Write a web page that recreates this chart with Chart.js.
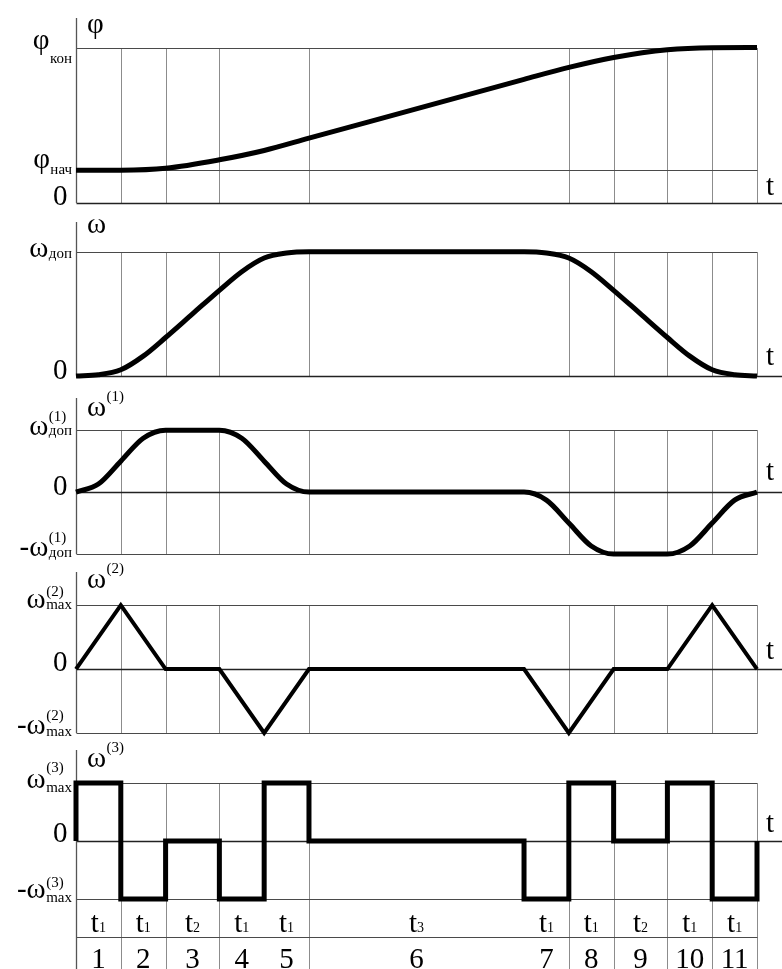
<!DOCTYPE html>
<html><head><meta charset="utf-8">
<script src="https://cdn.jsdelivr.net/npm/chart.js@4.4.0/dist/chart.umd.min.js"></script>
<style>
html,body{margin:0;padding:0;background:#fff;}
#wrap{position:relative;width:782px;height:969px;overflow:hidden;background:#fff;}
#wrap canvas{position:absolute;left:0;top:0;}
</style></head><body>
<div id="wrap">
<canvas id="c1" width="782" height="969"></canvas>
<canvas id="c2" width="782" height="969"></canvas>
<canvas id="c3" width="782" height="969"></canvas>
<canvas id="c4" width="782" height="969"></canvas>
<canvas id="c5" width="782" height="969"></canvas>
</div>
<script>
// ---- time axis: interval boundaries (t1 = 1, t2 = 1.2, t3 = 4.8) ----
const SEG_T = [0, 1, 2, 3.2, 4.2, 5.2, 10, 11, 12, 13.2, 14.2, 15.2];
const GRID_T = [1, 2, 3.2, 5.2, 11, 12, 13.2, 14.2];
const SEG_SUB = ['1', '1', '2', '1', '1', '3', '1', '1', '2', '1', '1'];
const SEG_NUMBERS = ['1', '2', '3', '4', '5', '6', '7', '8', '9', '10', '11'];

// ---- levels ----
const PHI_START = 0.21;
const PHI_END = 1.0;
const OMEGA_DOP = 1.0;
const LIM = 1.0;

// ---- φ(t) ----
const PHI_T = [0, 1, 2, 3.2, 4.2, 5.2, 10, 11, 12, 13.2, 14.2, 15.2];
const PHI   = [0.21, 0.211, 0.224, 0.278, 0.338, 0.417, 0.795, 0.872, 0.936, 0.986, 0.999, 1.0];

// ---- ω(t) ----
const OMEGA_T = [0, 0.5, 1, 1.5, 2, 2.6, 3.2, 3.7, 4.2, 4.7, 5.2, 10, 10.5, 11, 11.5, 12, 12.6, 13.2, 13.7, 14.2, 14.7, 15.2];
const OMEGA   = [0, 0.01, 0.05, 0.16, 0.31, 0.5, 0.69, 0.84, 0.95, 0.99, 1, 1, 0.99, 0.95, 0.84, 0.69, 0.5, 0.31, 0.16, 0.05, 0.01, 0];

// ---- ω(1)(t) ----
const OMEGA1_T = [0, 0.5, 1, 1.5, 2, 3.2, 3.7, 4.2, 4.7, 5.2, 10, 10.5, 11, 11.5, 12, 13.2, 13.7, 14.2, 14.7, 15.2];
const OMEGA1   = [0, 0.13, 0.5, 0.87, 1, 1, 0.87, 0.5, 0.13, 0, 0, -0.13, -0.5, -0.87, -1, -1, -0.87, -0.5, -0.13, 0];

// ---- ω(2)(t) ----
const OMEGA2_T = [0, 1, 2, 3.2, 4.2, 5.2, 10, 11, 12, 13.2, 14.2, 15.2];
const OMEGA2   = [0, 1, 0, 0, -1, 0, 0, -1, 0, 0, 1, 0];

// ---- ω(3)(t): value of the interval that ends at each time ----
const OMEGA3_T = [0, 0, 1, 2, 3.2, 4.2, 5.2, 10, 11, 12, 13.2, 14.2, 15.2, 15.2];
const OMEGA3   = [0, 1, 1, -1, 0, -1, 1, 0, -1, 1, 0, 1, -1, 0];

const FONT = '"Liberation Serif", "Times New Roman", serif';
const BIG = 29, SMALL = 15;

const PANELS = [
  { id: 'c1', top: 18, bottom: 203, yMin: 0, yMax: 1.19, t: PHI_T, y: PHI, lw: 5, mode: 'smooth',
    refs: [PHI_END, PHI_START], gridTop: PHI_END, gridBottom: 0, tDy: -8,
    title: { main: 'φ', dy: 15 },
    labels: [
      { v: PHI_END, main: 'φ', sub: 'кон', dm: 1, ds: 15, rx: 72 },
      { v: PHI_START, main: 'φ', sub: 'нач', dm: -2, ds: 4, rx: 72 },
      { v: 0, main: '0', dm: 2, rx: 68 }
    ] },
  { id: 'c2', top: 222, bottom: 376, yMin: 0, yMax: 1.24, t: OMEGA_T, y: OMEGA, lw: 5, mode: 'smooth',
    refs: [OMEGA_DOP], gridTop: OMEGA_DOP, gridBottom: 0, tDy: -11,
    title: { main: 'ω', dy: 11 },
    labels: [
      { v: OMEGA_DOP, main: 'ω', sub: 'доп', dm: 5, ds: 6, rx: 72 },
      { v: 0, main: '0', dm: 3, rx: 68 }
    ] },
  { id: 'c3', top: 398, bottom: 554, yMin: -1, yMax: 1.52, t: OMEGA1_T, y: OMEGA1, lw: 5, mode: 'smooth',
    refs: [LIM, -LIM], gridTop: LIM, gridBottom: -LIM, tDy: -12,
    title: { main: 'ω', sup: '(1)', dy: 18 },
    labels: [
      { v: LIM, main: 'ω', sub: 'доп', sup: '(1)', dm: 5, ds: 5, dp: -9, rx: 72 },
      { v: 0, main: '0', dm: 3, rx: 68 },
      { v: -LIM, main: '-ω', sub: 'доп', sup: '(1)', dm: 2, ds: 3, dp: -12, rx: 72 }
    ] },
  { id: 'c4', top: 572, bottom: 733, yMin: -1, yMax: 1.52, t: OMEGA2_T, y: OMEGA2, lw: 4, mode: 'linear',
    refs: [LIM, -LIM], gridTop: LIM, gridBottom: -LIM, tDy: -10,
    title: { main: 'ω', sup: '(2)', dy: 16 },
    labels: [
      { v: LIM, main: 'ω', sub: 'max', sup: '(2)', dm: 3, ds: 4, dp: -9, rx: 72 },
      { v: 0, main: '0', dm: 2, rx: 68 },
      { v: -LIM, main: '-ω', sub: 'max', sup: '(2)', dm: 1, ds: 3, dp: -13, rx: 72 }
    ] },
  { id: 'c5', top: 750, bottom: 899, yMin: -1, yMax: 1.57, t: OMEGA3_T, y: OMEGA3, lw: 5, mode: 'step',
    refs: [LIM, -LIM], gridTop: LIM, gridBottom: -LIM, tDy: -9, table: true,
    title: { main: 'ω', sup: '(3)', dy: 17 },
    labels: [
      { v: LIM, main: 'ω', sub: 'max', sup: '(3)', dm: 5, ds: 9, dp: -11, rx: 72 },
      { v: 0, main: '0', dm: 1, rx: 68 },
      { v: -LIM, main: '-ω', sub: 'max', sup: '(3)', dm: -1, ds: 3, dp: -12, rx: 72 }
    ] }
];

function textW(ctx, s, size) {
  if (!s) return 0;
  ctx.font = size + 'px ' + FONT;
  return ctx.measureText(s).width;
}

function drawComposite(ctx, lab, x0, y) {
  ctx.font = BIG + 'px ' + FONT;
  ctx.fillText(lab.main, x0, y + (lab.dm || 0));
  const mw = ctx.measureText(lab.main).width;
  ctx.font = SMALL + 'px ' + FONT;
  if (lab.sub) ctx.fillText(lab.sub, x0 + mw + 0.5, y + (lab.ds || 0));
  if (lab.sup) ctx.fillText(lab.sup, x0 + mw + 0.5, y + (lab.dp || 0));
}

function decor(p) {
  return {
    id: 'decor_' + p.id,
    beforeDatasetsDraw(chart) {
      const ctx = chart.ctx, xs = chart.scales.x, ys = chart.scales.y, ca = chart.chartArea;
      const W = chart.width, H = chart.height;
      const X = v => Math.round(xs.getPixelForValue(v)) + 0.5;
      const Y = v => Math.round(ys.getPixelForValue(v)) + 0.5;
      const xL = X(SEG_T[0]), xR = X(SEG_T[SEG_T.length - 1]);
      ctx.save();
      ctx.strokeStyle = '#8c8c8c';
      ctx.lineWidth = 1;
      ctx.beginPath();
      GRID_T.concat([SEG_T[SEG_T.length - 1]]).forEach(t => {
        ctx.moveTo(X(t), Y(p.gridTop));
        ctx.lineTo(X(t), p.table ? H : Y(p.gridBottom));
      });
      ctx.stroke();
      ctx.strokeStyle = '#4a4a4a';
      ctx.beginPath();
      p.refs.forEach(v => { ctx.moveTo(xL, Y(v)); ctx.lineTo(xR, Y(v)); });
      if (p.table) {
        const yr = Math.round(ca.bottom + 38) + 0.5;
        ctx.moveTo(xL, yr); ctx.lineTo(xR, yr);
      }
      ctx.stroke();
      ctx.strokeStyle = '#222';
      ctx.lineWidth = 1.5;
      ctx.beginPath();
      ctx.moveTo(xL, Y(0)); ctx.lineTo(W, Y(0));
      ctx.stroke();
      ctx.strokeStyle = '#555';
      ctx.lineWidth = 1.3;
      ctx.beginPath();
      ctx.moveTo(xL, ca.top); ctx.lineTo(xL, p.table ? H : ca.bottom);
      ctx.stroke();
      ctx.restore();
    },
    afterDraw(chart) {
      const ctx = chart.ctx, xs = chart.scales.x, ys = chart.scales.y, ca = chart.chartArea;
      const xL = xs.getPixelForValue(SEG_T[0]);
      ctx.save();
      ctx.fillStyle = '#000';
      ctx.textBaseline = 'alphabetic';
      ctx.textAlign = 'left';
      drawComposite(ctx, { main: p.title.main, sup: p.title.sup, dp: -15 }, xL + 11, ca.top + p.title.dy);
      p.labels.forEach(lab => {
        const w = textW(ctx, lab.main, BIG) + Math.max(textW(ctx, lab.sub, SMALL), textW(ctx, lab.sup, SMALL)) + 0.5;
        drawComposite(ctx, lab, lab.rx - w, ys.getPixelForValue(lab.v));
      });
      ctx.font = BIG + 'px ' + FONT;
      ctx.fillText('t', 766, ys.getPixelForValue(0) + p.tDy);
      if (p.table) {
        for (let i = 0; i < SEG_SUB.length; i++) {
          const cx = (xs.getPixelForValue(SEG_T[i]) + xs.getPixelForValue(SEG_T[i + 1])) / 2;
          const w = textW(ctx, 't', BIG) + textW(ctx, SEG_SUB[i], 14);
          const x0 = cx - w / 2;
          ctx.font = BIG + 'px ' + FONT;
          ctx.fillText('t', x0, ca.bottom + 33);
          const tw = ctx.measureText('t').width;
          ctx.font = '14px ' + FONT;
          ctx.fillText(SEG_SUB[i], x0 + tw, ca.bottom + 33);
          ctx.font = BIG + 'px ' + FONT;
          ctx.textAlign = 'center';
          ctx.fillText(SEG_NUMBERS[i], cx, ca.bottom + 69);
          ctx.textAlign = 'left';
        }
      }
      ctx.restore();
    }
  };
}

PANELS.forEach(p => {
  const ds = {
    data: p.t.map((t, i) => ({ x: t, y: p.y[i] })),
    borderColor: '#000',
    borderWidth: p.lw,
    pointRadius: 0,
    fill: false,
    clip: false,
    borderJoinStyle: 'miter',
    borderCapStyle: 'butt'
  };
  if (p.mode === 'smooth') ds.cubicInterpolationMode = 'monotone';
  if (p.mode === 'step') ds.stepped = 'after';
  if (p.mode === 'linear') ds.tension = 0;
  new Chart(document.getElementById(p.id), {
    type: 'line',
    data: { datasets: [ds] },
    options: {
      responsive: false,
      animation: false,
      devicePixelRatio: 1,
      events: [],
      layout: { padding: { left: 76, right: 25, top: p.top, bottom: 969 - p.bottom } },
      plugins: { legend: { display: false }, tooltip: { enabled: false } },
      scales: {
        x: { type: 'linear', min: SEG_T[0], max: SEG_T[SEG_T.length - 1], display: false },
        y: { type: 'linear', min: p.yMin, max: p.yMax, display: false }
      }
    },
    plugins: [decor(p)]
  });
});
</script>
</body></html>
